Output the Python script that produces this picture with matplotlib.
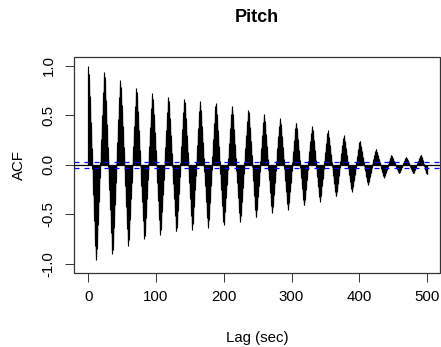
import numpy as np
import matplotlib
matplotlib.use("Agg")
import matplotlib.pyplot as plt
from matplotlib.patches import Rectangle

plt.rcParams['font.family'] = ['Liberation Sans', 'DejaVu Sans']

# Extrema of the ACF (lag in sec, ACF value)
peak_lags = [0, 23.6, 47.2, 70.9, 94.5, 118.1, 141.7, 164.9, 188.1, 212.1, 236.2,
             259.4, 283.0, 306.6, 330.3, 353.5, 377.0, 400.6, 424.3, 447.3, 469.0, 491.0]
peak_vals = [1.0, 0.95, 0.866, 0.785, 0.728, 0.695, 0.671, 0.651, 0.631, 0.601, 0.557,
             0.517, 0.473, 0.432, 0.395, 0.350, 0.299, 0.245, 0.160, 0.099, 0.078, 0.102]
trough_lags = [11.4, 35.4, 59.0, 82.7, 106.3, 129.9, 153.5, 176.7, 199.9, 224.0, 247.6,
               271.2, 294.8, 318.4, 342.0, 365.6, 389.2, 412.8, 436.5, 458.7, 479.8, 499.6]
trough_vals = [-0.98, -0.913, -0.822, -0.758, -0.711, -0.681, -0.658, -0.641, -0.614, -0.581, -0.535,
               -0.493, -0.459, -0.415, -0.374, -0.323, -0.272, -0.204, -0.129, -0.085, -0.085, -0.092]
conf_limit = 0.030
max_lag = 500
lag_step = 0.25
title = "Pitch"
xlabel = "Lag (sec)"
ylabel = "ACF"
xticks = [0, 100, 200, 300, 400, 500]
yticks = [-1.0, -0.5, 0.0, 0.5, 1.0]

# merge extrema in lag order
ext = sorted(list(zip(peak_lags, peak_vals)) + list(zip(trough_lags, trough_vals)))
ext_l = np.array([e[0] for e in ext])
ext_v = np.array([e[1] for e in ext])

lags = np.arange(0, max_lag + lag_step / 2, lag_step)
acf = np.interp(lags, ext_l, ext_v)

W, H = 441, 347
fig = plt.figure(figsize=(W / 100, H / 100), dpi=100)
L, R, T, B = 74.3, 440, 57.3, 272.7
ax = fig.add_axes([L / W, 1 - B / H, (R - L) / W, (B - T) / H])

ax.vlines(lags, 0, acf, colors='black', linewidth=0.8)
ax.axhline(0, color='black', linewidth=0.9)
ax.axhline(conf_limit, color='blue', linewidth=0.9, linestyle=(0, (4, 4)))
ax.axhline(-conf_limit, color='blue', linewidth=0.9, linestyle=(0, (4, 4)))

ax.set_xlim(-20.7, 519.2)
ax.set_ylim(-1.088, 1.085)
ax.set_xticks(xticks)
ax.set_xticklabels([str(x) for x in xticks])
ax.set_yticks(yticks)
ax.set_yticklabels([f"{y:.1f}" for y in yticks], rotation=90, va='center')
ax.tick_params(direction='out', length=6.5, width=0.7, labelsize=10.8, color='#333333')
ax.tick_params(axis='x', pad=6)
ax.tick_params(axis='y', pad=7)
for s in ax.spines.values():
    s.set_visible(False)
ax.add_patch(Rectangle((0, 0), 1, 1, transform=ax.transAxes, fill=False,
                       edgecolor='#333333', linewidth=0.9, clip_on=False))

fig.text((L + R) / 2 / W, 1 - 21.7 / H, title, ha='center', va='baseline',
         fontsize=13, fontweight='bold')
fig.text((L + R) / 2 / W, 1 - 338 / H, xlabel, ha='center', va='center', fontsize=10.8)
fig.text(19 / W, 1 - (T + B) / 2 / H, ylabel, ha='center', va='center',
         rotation=90, fontsize=10.8)

fig.savefig("out.png", dpi=100)
